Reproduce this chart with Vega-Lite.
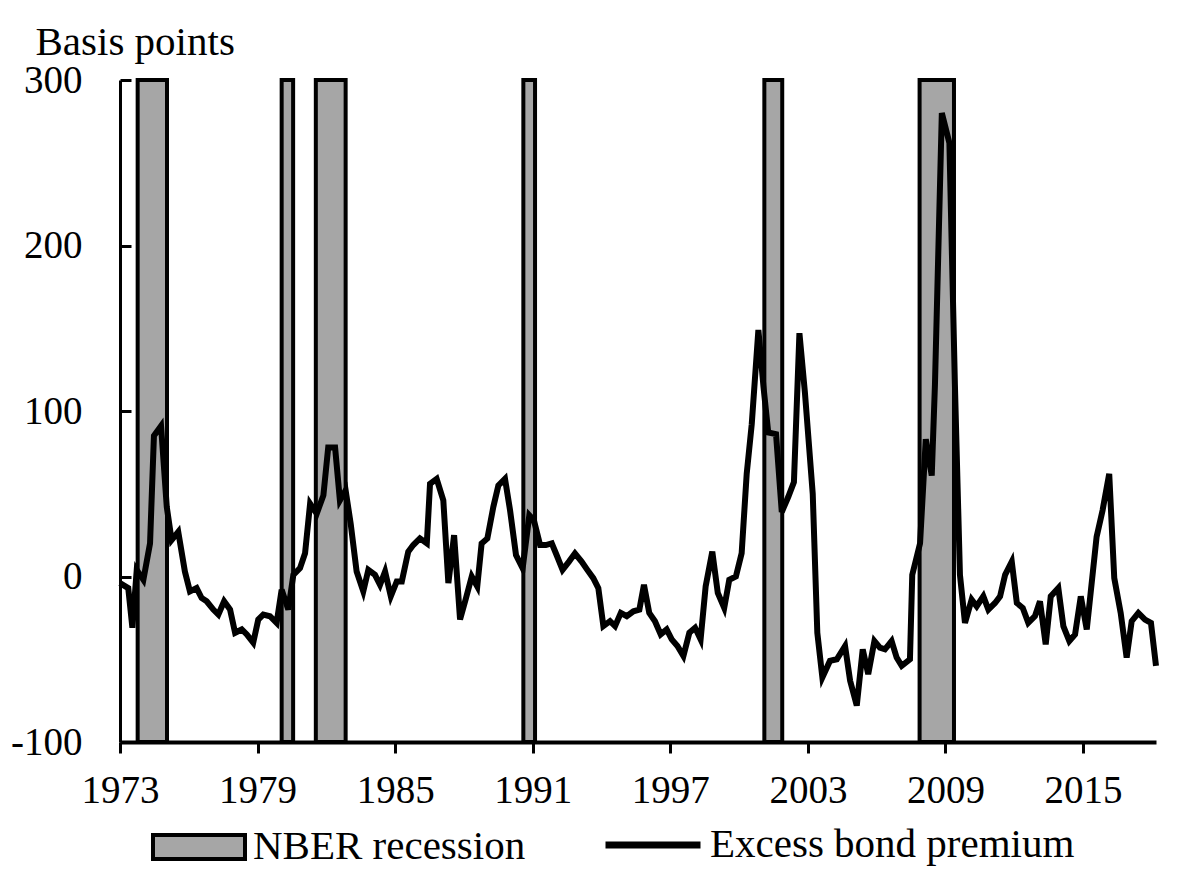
{
  "$schema": "https://vega.github.io/schema/vega-lite/v6.json",
  "autosize": {"type": "none"},
  "padding": {"left": 120, "top": 80, "right": 44, "bottom": 139},
  "width": 1036,
  "height": 662,
  "background": "white",
  "config": {
    "view": {"stroke": null},
    "font": "Liberation Serif",
    "axis": {
      "grid": false,
      "domainColor": "black",
      "tickColor": "black",
      "labelColor": "black",
      "labelFont": "Liberation Serif",
      "labelFontSize": 39,
      "titleFont": "Liberation Serif",
      "titleFontSize": 41,
      "titleFontWeight": "normal",
      "titleColor": "black"
    },
    "axisX": {"domainWidth": 4, "tickWidth": 3, "tickSize": 11, "labelPadding": 18, "labelFlush": false},
    "axisY": {"domainWidth": 3, "tickWidth": 3, "tickSize": -11, "labelPadding": 49, "labelFlush": false},
    "legend": {
      "labelFont": "Liberation Serif",
      "labelFontSize": 41,
      "labelColor": "black",
      "labelLimit": 800,
      "padding": 0
    }
  },
  "datasets": {
    "recessions": [
      {"start": 1973.77, "end": 1975.05},
      {"start": 1980.05, "end": 1980.55},
      {"start": 1981.54, "end": 1982.84},
      {"start": 1990.59, "end": 1991.10},
      {"start": 2001.10, "end": 2001.88},
      {"start": 2007.87, "end": 2009.37}
    ],
    "ebp": [
      {"year": 1973.00, "ebp": -4}, {"year": 1973.36, "ebp": -7}, {"year": 1973.54, "ebp": -31}, {"year": 1973.73, "ebp": 4},
      {"year": 1974.02, "ebp": -2}, {"year": 1974.31, "ebp": 20}, {"year": 1974.48, "ebp": 85}, {"year": 1974.79, "ebp": 91},
      {"year": 1975.04, "ebp": 42}, {"year": 1975.25, "ebp": 22}, {"year": 1975.54, "ebp": 27}, {"year": 1975.83, "ebp": 3},
      {"year": 1976.05, "ebp": -9}, {"year": 1976.34, "ebp": -7}, {"year": 1976.56, "ebp": -13}, {"year": 1976.78, "ebp": -15},
      {"year": 1977.07, "ebp": -20}, {"year": 1977.29, "ebp": -23}, {"year": 1977.54, "ebp": -15}, {"year": 1977.80, "ebp": -20},
      {"year": 1978.02, "ebp": -34}, {"year": 1978.31, "ebp": -32}, {"year": 1978.53, "ebp": -35}, {"year": 1978.81, "ebp": -40},
      {"year": 1979.03, "ebp": -26}, {"year": 1979.25, "ebp": -23}, {"year": 1979.54, "ebp": -24}, {"year": 1979.83, "ebp": -28},
      {"year": 1980.05, "ebp": -8}, {"year": 1980.34, "ebp": -20}, {"year": 1980.56, "ebp": 1}, {"year": 1980.85, "ebp": 5},
      {"year": 1981.07, "ebp": 14}, {"year": 1981.29, "ebp": 44}, {"year": 1981.58, "ebp": 38}, {"year": 1981.87, "ebp": 49},
      {"year": 1982.08, "ebp": 78}, {"year": 1982.38, "ebp": 78}, {"year": 1982.59, "ebp": 46}, {"year": 1982.84, "ebp": 52},
      {"year": 1983.06, "ebp": 32}, {"year": 1983.32, "ebp": 3}, {"year": 1983.61, "ebp": -9}, {"year": 1983.83, "ebp": 4},
      {"year": 1984.12, "ebp": 1}, {"year": 1984.34, "ebp": -5}, {"year": 1984.56, "ebp": 3}, {"year": 1984.81, "ebp": -12},
      {"year": 1985.07, "ebp": -3}, {"year": 1985.29, "ebp": -3}, {"year": 1985.57, "ebp": 15}, {"year": 1985.79, "ebp": 19},
      {"year": 1986.08, "ebp": 23}, {"year": 1986.38, "ebp": 20}, {"year": 1986.52, "ebp": 56}, {"year": 1986.81, "ebp": 59},
      {"year": 1987.10, "ebp": 46}, {"year": 1987.32, "ebp": -4}, {"year": 1987.57, "ebp": 25}, {"year": 1987.83, "ebp": -26},
      {"year": 1988.09, "ebp": -13}, {"year": 1988.34, "ebp": 0}, {"year": 1988.58, "ebp": -6}, {"year": 1988.77, "ebp": 20},
      {"year": 1989.02, "ebp": 23}, {"year": 1989.28, "ebp": 42}, {"year": 1989.50, "ebp": 55}, {"year": 1989.79, "ebp": 59},
      {"year": 1990.01, "ebp": 40}, {"year": 1990.27, "ebp": 13}, {"year": 1990.56, "ebp": 5}, {"year": 1990.85, "ebp": 37},
      {"year": 1991.05, "ebp": 34}, {"year": 1991.32, "ebp": 19}, {"year": 1991.57, "ebp": 19}, {"year": 1991.83, "ebp": 20},
      {"year": 1992.04, "ebp": 13}, {"year": 1992.30, "ebp": 4}, {"year": 1992.58, "ebp": 9}, {"year": 1992.84, "ebp": 14},
      {"year": 1993.13, "ebp": 9}, {"year": 1993.38, "ebp": 4}, {"year": 1993.64, "ebp": -1}, {"year": 1993.86, "ebp": -7},
      {"year": 1994.08, "ebp": -30}, {"year": 1994.37, "ebp": -27}, {"year": 1994.59, "ebp": -30}, {"year": 1994.84, "ebp": -22},
      {"year": 1995.10, "ebp": -24}, {"year": 1995.39, "ebp": -21}, {"year": 1995.65, "ebp": -20}, {"year": 1995.85, "ebp": -5},
      {"year": 1996.08, "ebp": -22}, {"year": 1996.33, "ebp": -27}, {"year": 1996.58, "ebp": -35}, {"year": 1996.84, "ebp": -32},
      {"year": 1997.06, "ebp": -38}, {"year": 1997.31, "ebp": -42}, {"year": 1997.57, "ebp": -48}, {"year": 1997.83, "ebp": -34},
      {"year": 1998.08, "ebp": -31}, {"year": 1998.32, "ebp": -38}, {"year": 1998.54, "ebp": -6}, {"year": 1998.83, "ebp": 15},
      {"year": 1999.07, "ebp": -10}, {"year": 1999.35, "ebp": -19}, {"year": 1999.57, "ebp": -2}, {"year": 1999.86, "ebp": 0},
      {"year": 2000.11, "ebp": 14}, {"year": 2000.33, "ebp": 62}, {"year": 2000.55, "ebp": 92}, {"year": 2000.84, "ebp": 149},
      {"year": 2001.06, "ebp": 115}, {"year": 2001.27, "ebp": 87}, {"year": 2001.61, "ebp": 86}, {"year": 2001.86, "ebp": 39},
      {"year": 2002.14, "ebp": 48}, {"year": 2002.39, "ebp": 57}, {"year": 2002.63, "ebp": 147}, {"year": 2002.87, "ebp": 111},
      {"year": 2003.21, "ebp": 50}, {"year": 2003.41, "ebp": -34}, {"year": 2003.63, "ebp": -61}, {"year": 2003.96, "ebp": -51},
      {"year": 2004.26, "ebp": -50}, {"year": 2004.62, "ebp": -42}, {"year": 2004.84, "ebp": -63}, {"year": 2005.13, "ebp": -78},
      {"year": 2005.39, "ebp": -44}, {"year": 2005.63, "ebp": -59}, {"year": 2005.90, "ebp": -39}, {"year": 2006.14, "ebp": -43},
      {"year": 2006.36, "ebp": -44}, {"year": 2006.65, "ebp": -39}, {"year": 2006.87, "ebp": -49}, {"year": 2007.09, "ebp": -54},
      {"year": 2007.45, "ebp": -50}, {"year": 2007.55, "ebp": 1}, {"year": 2007.89, "ebp": 20}, {"year": 2008.14, "ebp": 83},
      {"year": 2008.40, "ebp": 61}, {"year": 2008.54, "ebp": 116}, {"year": 2008.84, "ebp": 280}, {"year": 2009.17, "ebp": 262},
      {"year": 2009.41, "ebp": 116}, {"year": 2009.63, "ebp": 1}, {"year": 2009.85, "ebp": -28}, {"year": 2010.14, "ebp": -14},
      {"year": 2010.36, "ebp": -18}, {"year": 2010.65, "ebp": -12}, {"year": 2010.87, "ebp": -20}, {"year": 2011.16, "ebp": -16},
      {"year": 2011.38, "ebp": -12}, {"year": 2011.60, "ebp": 1}, {"year": 2011.89, "ebp": 9}, {"year": 2012.11, "ebp": -16},
      {"year": 2012.37, "ebp": -19}, {"year": 2012.61, "ebp": -28}, {"year": 2012.90, "ebp": -24}, {"year": 2013.12, "ebp": -15},
      {"year": 2013.37, "ebp": -41}, {"year": 2013.59, "ebp": -12}, {"year": 2013.92, "ebp": -7}, {"year": 2014.14, "ebp": -30},
      {"year": 2014.40, "ebp": -39}, {"year": 2014.65, "ebp": -35}, {"year": 2014.90, "ebp": -12}, {"year": 2015.16, "ebp": -32},
      {"year": 2015.59, "ebp": 24}, {"year": 2015.85, "ebp": 40}, {"year": 2016.14, "ebp": 62}, {"year": 2016.36, "ebp": -1},
      {"year": 2016.64, "ebp": -22}, {"year": 2016.90, "ebp": -49}, {"year": 2017.12, "ebp": -27}, {"year": 2017.41, "ebp": -22},
      {"year": 2017.70, "ebp": -26}, {"year": 2017.96, "ebp": -28}, {"year": 2018.18, "ebp": -54}
    ]
  },
  "layer": [
    {
      "data": {"name": "recessions"},
      "mark": {"type": "rect", "stroke": "black", "strokeWidth": 4},
      "encoding": {
        "x": {
          "field": "start", "type": "quantitative",
          "scale": {"domain": [1973, 2018.18], "nice": false, "zero": false},
          "axis": {"title": null, "values": [1973, 1979, 1985, 1991, 1997, 2003, 2009, 2015], "format": "d"}
        },
        "x2": {"field": "end"},
        "y": {
          "datum": 300, "type": "quantitative",
          "scale": {"domain": [-100, 300], "nice": false, "zero": false},
          "axis": {
            "title": "Basis points", "values": [-100, 0, 100, 200, 300],
            "labelExpr": "'' + datum.value",
            "titleAngle": 0, "titleAlign": "left", "titleBaseline": "alphabetic",
            "titleX": -85, "titleY": -26
          }
        },
        "y2": {"datum": -100},
        "fill": {
          "datum": "NBER recession", "type": "nominal",
          "scale": {"range": ["#a6a6a6"]},
          "legend": {
            "title": null, "orient": "none", "legendX": 31, "legendY": 719,
            "symbolType": "M-1,-0.26H1V0.26H-1Z", "symbolSize": 8464,
            "symbolStrokeColor": "black", "symbolStrokeWidth": 4, "labelOffset": 6
          }
        }
      }
    },
    {
      "data": {"name": "ebp"},
      "mark": {"type": "line", "strokeWidth": 6},
      "encoding": {
        "x": {"field": "year", "type": "quantitative", "axis": {"title": null, "values": [1973, 1979, 1985, 1991, 1997, 2003, 2009, 2015], "format": "d"}},
        "y": {"field": "ebp", "type": "quantitative", "axis": {"title": "Basis points", "values": [-100, 0, 100, 200, 300], "labelExpr": "'' + datum.value", "titleAngle": 0, "titleAlign": "left", "titleBaseline": "alphabetic", "titleX": -85, "titleY": -26}},
        "stroke": {
          "datum": "Excess bond premium", "type": "nominal",
          "scale": {"range": ["#000000"]},
          "legend": {
            "title": null, "orient": "none", "legendX": 482, "legendY": 714,
            "symbolType": "stroke", "symbolSize": 9025, "symbolStrokeWidth": 7,
            "labelOffset": 6
          }
        }
      }
    }
  ]
}
